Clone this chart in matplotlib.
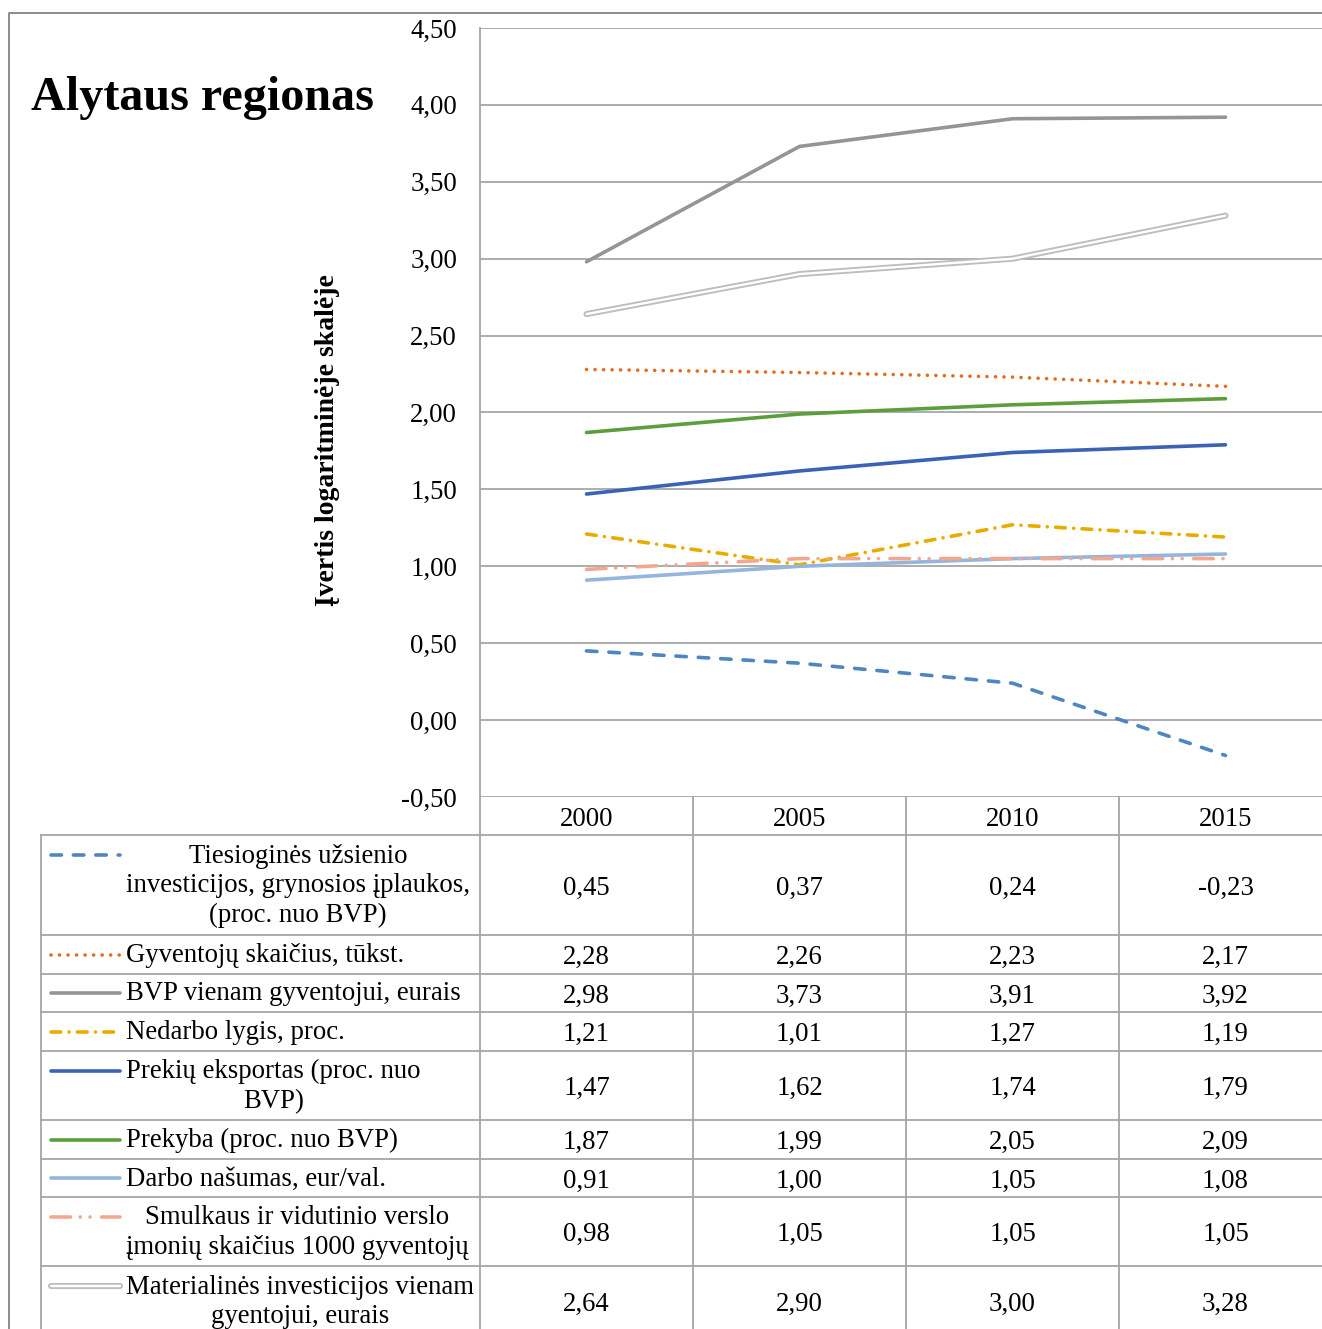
import matplotlib
matplotlib.use("Agg")
import matplotlib.pyplot as plt
import matplotlib.transforms as mtransforms
from matplotlib.lines import Line2D
import numpy as np

plt.rcParams['font.family'] = ['Liberation Serif', 'DejaVu Serif']

# ---------------- data ----------------
years = ["2000", "2005", "2010", "2015"]
labels = [
    "Tiesioginės užsienio\ninvesticijos, grynosios įplaukos,\n(proc. nuo BVP)",
    "Gyventojų skaičius, tūkst.",
    "BVP vienam gyventojui, eurais",
    "Nedarbo lygis, proc.",
    "Prekių eksportas (proc. nuo\nBVP)",
    "Prekyba (proc. nuo BVP)",
    "Darbo našumas, eur/val.",
    "Smulkaus ir vidutinio verslo\nįmonių skaičius 1000 gyventojų",
    "Materialinės investicijos vienam\ngyentojui, eurais",
]
tiesiogines = [0.45, 0.37, 0.24, -0.23]
gyventoju = [2.28, 2.26, 2.23, 2.17]
bvp = [2.98, 3.73, 3.91, 3.92]
nedarbo = [1.21, 1.01, 1.27, 1.19]
eksportas = [1.47, 1.62, 1.74, 1.79]
prekyba = [1.87, 1.99, 2.05, 2.09]
darbo = [0.91, 1.00, 1.05, 1.08]
smulkaus = [0.98, 1.05, 1.05, 1.05]
materialines = [2.64, 2.90, 3.00, 3.28]
series = [tiesiogines, gyventoju, bvp, nedarbo, eksportas, prekyba, darbo, smulkaus, materialines]
yticks = [-0.5, 0.0, 0.5, 1.0, 1.5, 2.0, 2.5, 3.0, 3.5, 4.0, 4.5]

# ---------------- styles ----------------
LW = 2.6
styles = [
    dict(color='#4F86C0', dashes=(2.9, 3.3)),
    dict(color='#E36C1E', dashes=(0.01, 2.35)),
    dict(color='#959595'),
    dict(color='#E8AC00', dashes=(2.7, 2.3, 0.01, 2.3)),
    dict(color='#3A62B5'),
    dict(color='#5C9E3C'),
    dict(color='#95B5DF'),
    dict(color='#F2A88E', dashes=(5.4, 2.7, 0.01, 2.7, 0.01, 3.2)),
    None,  # double line
]
DOUBLE_OUT = '#BDBDBD'
FS = 19.3

W, H = 1322, 1329
fig = plt.figure(figsize=(W / 100, H / 100), dpi=100)

def fx(x):
    return x / W

def fy(y):
    return 1 - y / H

# ---------------- main axes ----------------
ax = fig.add_axes([fx(480), fy(797), (1332 - 480) / W, (797 - 28) / H])
x = np.arange(len(years))
for vals, st in zip(series, styles):
    if st is None:
        ax.plot(x, vals, color=DOUBLE_OUT, lw=4.4, solid_capstyle='round', solid_joinstyle='round', zorder=3)
        ax.plot(x, vals, color='white', lw=1.7, solid_capstyle='round', solid_joinstyle='round', zorder=3.1)
    else:
        kw = dict(color=st['color'], lw=LW, solid_capstyle='round', dash_capstyle='round', zorder=3)
        if 'dashes' in st:
            kw['dashes'] = st['dashes']
        ax.plot(x, vals, **kw)

ax.set_xlim(-0.5, 3.5)
ax.set_ylim(-0.5, 4.5)
ax.set_yticks(yticks)
ax.set_yticklabels([f"{v:.2f}".replace('.', ',') for v in yticks], fontsize=FS)
ax.set_xticks([])
ax.yaxis.grid(True, color='#A6A6A6', lw=1.3)
ax.set_axisbelow(True)
for s in ['top', 'right', 'bottom']:
    ax.spines[s].set_visible(False)
ax.spines['left'].set_color('#A6A6A6')
ax.spines['left'].set_linewidth(1.3)
ax.tick_params(axis='y', length=0, pad=16.5)

# ---------------- table axes ----------------
tax = fig.add_axes([fx(41), 0, (1332 - 41) / W, fy(797)])
tax.set_xlim(41, 1332)
tax.set_ylim(1329, 797)
tax.axis('off')
blend = mtransforms.blended_transform_factory(ax.transData, tax.transData)

GRIDC = '#A6A6A6'
row_edges = [835, 935, 974, 1012, 1051, 1120, 1159, 1197, 1266, 1336]
nlines = [lab.count('\n') + 1 for lab in labels]

for yb in row_edges[:-1]:
    tax.plot([41, 1332], [yb, yb], color=GRIDC, lw=1.3, clip_on=False)
for xb in [-0.5, 0.5, 1.5, 2.5]:
    tax.plot([xb, xb], [797, 1336], color=GRIDC, lw=1.3, transform=blend, clip_on=False)
tax.plot([41, 41], [835, 1336], color=GRIDC, lw=1.3, clip_on=False)

for i, yr in enumerate(years):
    tax.text(i, 816, yr, transform=blend, ha='center', va='center_baseline', fontsize=FS)

for r, (lab, vals, st) in enumerate(zip(labels, series, styles)):
    yc = (row_edges[r] + row_edges[r + 1]) / 2
    tax.text(126, yc + 1, lab, ha='left', va='center', multialignment='center',
             fontsize=FS, linespacing=1.22)
    for i, v in enumerate(vals):
        tax.text(i, yc, f"{v:.2f}".replace('.', ','), transform=blend,
                 ha='center', va='center_baseline', fontsize=FS)
    ky = yc - (nlines[r] - 1) * 30 / 2
    if st is None:
        tax.plot([51, 120], [ky, ky], color=DOUBLE_OUT, lw=4.4, solid_capstyle='round')
        tax.plot([51, 120], [ky, ky], color='white', lw=1.7, solid_capstyle='round')
    else:
        kw = dict(color=st['color'], lw=LW, solid_capstyle='round', dash_capstyle='round')
        if 'dashes' in st:
            kw['dashes'] = st['dashes']
        tax.plot([51, 120], [ky, ky], **kw)

# ---------------- outer frame, title, axis label ----------------
fig.add_artist(Line2D([fx(9), fx(9), fx(1330)], [fy(1340), fy(13), fy(13)],
                      color='#8C8C8C', lw=1.4, transform=fig.transFigure))
fig.text(fx(31), fy(110), "Alytaus regionas", fontsize=34.7, fontweight='bold',
         ha='left', va='baseline')
fig.text(fx(328), fy(440), "Įvertis logaritminėje skalėje", fontsize=20,
         fontweight='bold', rotation=90, ha='center', va='center')

fig.savefig("out.png", dpi=100)
